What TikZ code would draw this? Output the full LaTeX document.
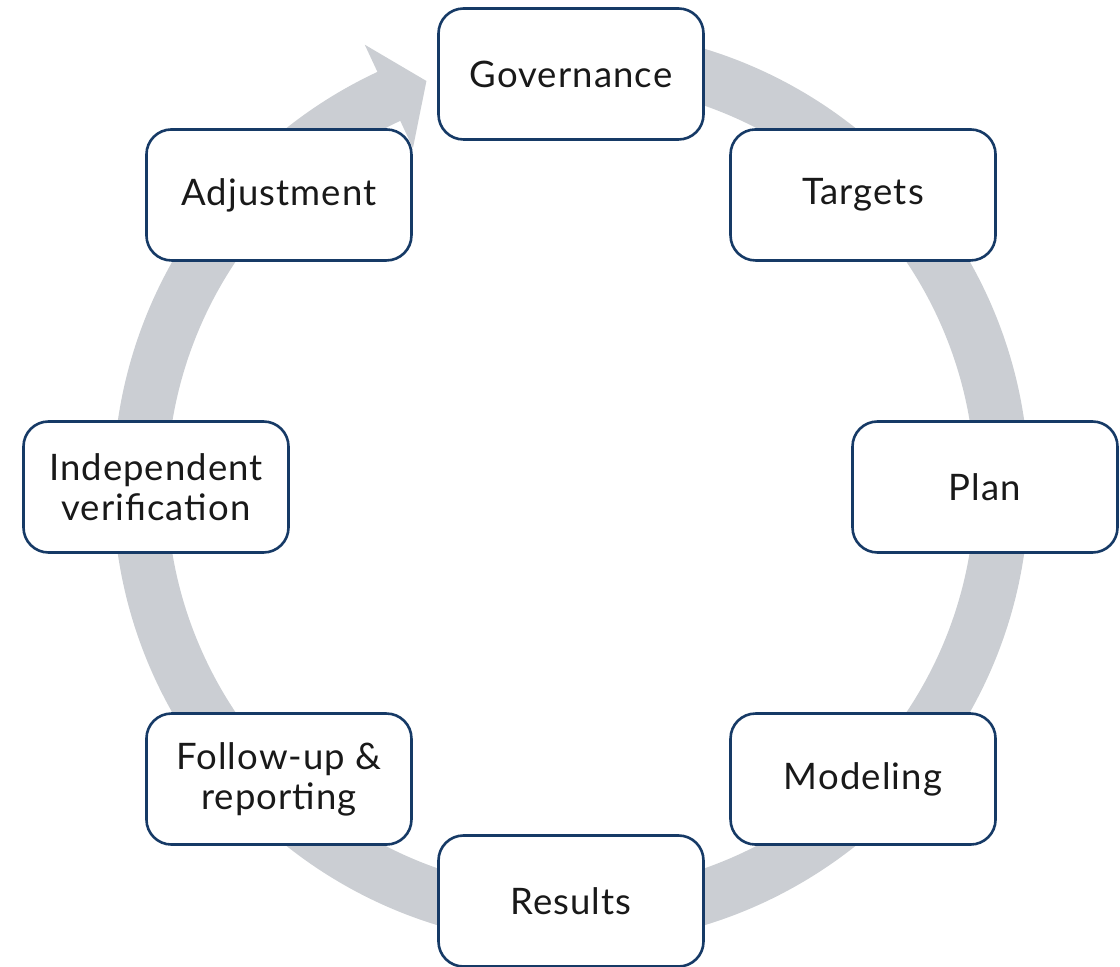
\documentclass[tikz,border=0pt]{standalone}
\usepackage{fontspec}
\setmainfont{Lato}[LetterSpace=3]
\definecolor{ringgray}{HTML}{CBCED3}
\definecolor{navy}{HTML}{163A66}
\begin{document}
\begin{tikzpicture}[x=1pt,y=1pt,
  stage/.style={draw=navy, line width=2.6pt, rounded corners=25pt, fill=white,
    minimum width=265pt, minimum height=131pt, align=center, inner sep=0pt,
    text=black!90, font=\fontsize{36.5}{40}\selectfont}]
\useasboundingbox (0,0) rectangle (1120,967);
\begin{scope}[shift={(571,480)}]
\fill[ringgray] (88:458) arc[start angle=88, end angle=-245, radius=458]
  -- (-245:488) -- (-250.4:431) -- (-245:374) -- (-245:404)
  arc[start angle=-245, end angle=88, radius=404] -- cycle;
\node[stage] (gov) at (90:413) {Governance};
\node[stage] (tar) at (45:413) {Targets};
\node[stage] (pla) at (0:414) {Plan};
\node[stage] (mod) at (-45:413) {Modeling};
\node[stage] (res) at (-90:414) {Results};
\node[stage] (fol) at (-135:413) {Follow-up \&\\reporting};
\node[stage] (ind) at (180:415) {Independent\\verification};
\node[stage] (adj) at (135:413) {Adjustment};
\end{scope}
\end{tikzpicture}
\end{document}
